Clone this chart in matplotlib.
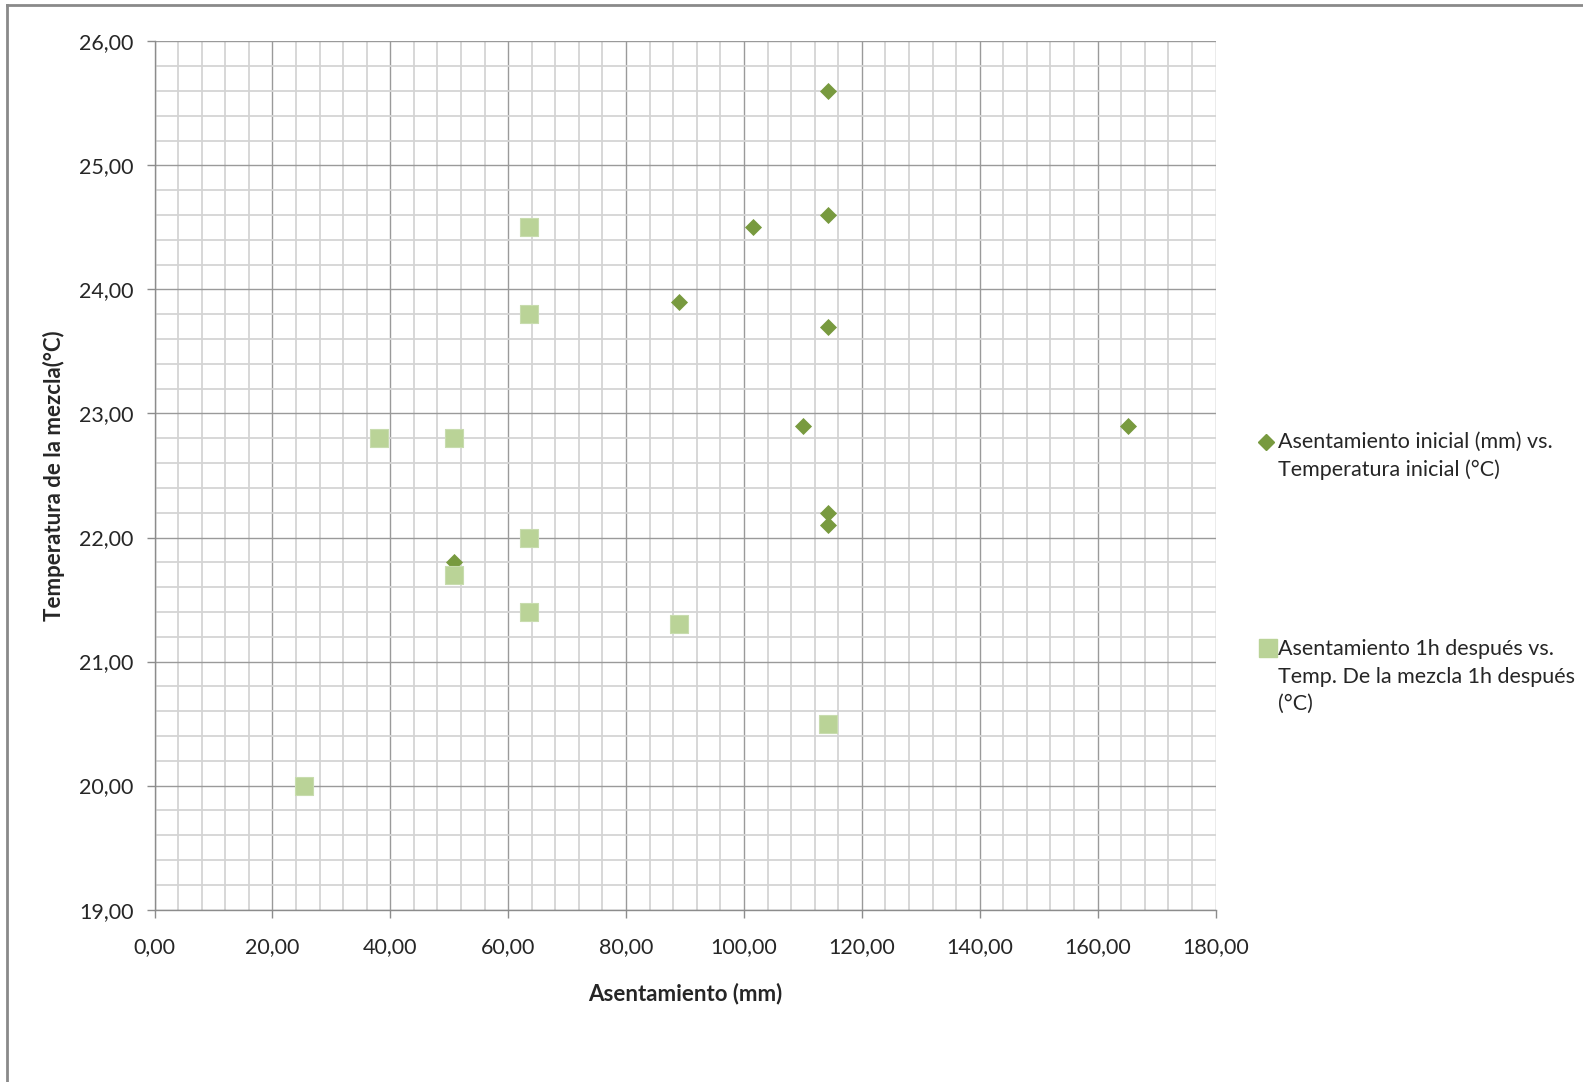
import matplotlib
matplotlib.use("Agg")
import matplotlib.pyplot as plt
from matplotlib.lines import Line2D
from matplotlib.ticker import MultipleLocator, FuncFormatter

plt.rcParams['font.family'] = ['Lato', 'DejaVu Sans']

# Initial slump (mm) vs initial temperature (°C)
x_inicial = [114.3, 114.3, 101.6, 88.9, 114.3, 110.0, 165.1, 114.3, 114.3, 50.8]
t_inicial = [25.6, 24.6, 24.5, 23.9, 23.7, 22.9, 22.9, 22.2, 22.1, 21.8]

# Slump 1h later (mm) vs mix temperature 1h later (°C)
x_1h = [63.5, 63.5, 38.1, 50.8, 63.5, 50.8, 63.5, 88.9, 114.3, 25.4]
t_1h = [24.5, 23.8, 22.8, 22.8, 22.0, 21.7, 21.4, 21.3, 20.5, 20.0]

label_inicial = "Asentamiento inicial (mm) vs.\nTemperatura inicial (°C)"
label_1h = "Asentamiento 1h después vs.\nTemp. De la mezcla 1h después\n(°C)"

c_dark = "#789a3f"
c_light = "#bad397"
txt = "#262626"

W, H = 1583, 1082
fig = plt.figure(figsize=(W / 100, H / 100), dpi=100)
ax = fig.add_axes([154.5 / W, 1 - 909.6 / H, (1215.5 - 154.5) / W, (909.6 - 41.4) / H])

ax.set_xlim(0, 180)
ax.set_ylim(19, 26)
ax.xaxis.set_major_locator(MultipleLocator(20))
ax.xaxis.set_minor_locator(MultipleLocator(4))
ax.yaxis.set_major_locator(MultipleLocator(1))
ax.yaxis.set_minor_locator(MultipleLocator(0.2))
fmt = FuncFormatter(lambda v, p: f"{v:.2f}".replace(".", ","))
ax.xaxis.set_major_formatter(fmt)
ax.yaxis.set_major_formatter(fmt)

ax.grid(which='minor', color='#d4d4d4', linewidth=1.3)
ax.grid(which='major', color='#9a9a9a', linewidth=1.0)
ax.set_axisbelow(True)

for side in ['top', 'right']:
    ax.spines[side].set_visible(False)
for side in ['left', 'bottom']:
    ax.spines[side].set_color('#8c8c8c')
    ax.spines[side].set_linewidth(1.0)

ax.tick_params(which='major', direction='out', length=6, width=1, color='#8c8c8c',
               labelsize=15.5, labelcolor=txt)
ax.tick_params(which='minor', length=0)
ax.tick_params(axis='y', pad=9)
ax.tick_params(axis='x', pad=14)

ax.scatter(x_inicial, t_inicial, marker='D', s=8.7 ** 2, color=c_dark, linewidths=0, zorder=3, clip_on=False)
ax.scatter(x_1h, t_1h, marker='s', s=13 ** 2, color=c_light, edgecolors='#c8dcae', linewidths=0.8, zorder=3, clip_on=False)

ax.set_xlabel("Asentamiento (mm)", fontsize=16, fontweight='bold', color=txt, labelpad=18)
ax.set_ylabel("Temperatura de la mezcla(°C)", fontsize=16, fontweight='bold', color=txt, labelpad=10)

# Legend drawn by hand so each marker sits on its entry's first line
def fx(px):
    return px / W

def fy(py):
    return 1 - py / H

fig.add_artist(Line2D([fx(1266)], [fy(442)], marker='D', markersize=8.5, color=c_dark, linestyle='none'))
fig.text(fx(1278), fy(432), label_inicial, fontsize=15.5, color=txt, va='top', ha='left',
         linespacing=1.47, transform=fig.transFigure)
fig.add_artist(Line2D([fx(1268)], [fy(648)], marker='s', markersize=12.5, color=c_light, linestyle='none'))
fig.text(fx(1278), fy(639), label_1h, fontsize=15.5, color=txt, va='top', ha='left',
         linespacing=1.47, transform=fig.transFigure)

# Outer chart frame (left and top edges)
fig.add_artist(Line2D([fx(7), fx(7)], [fy(5), 0], color='#8a8a8a', linewidth=2))
fig.add_artist(Line2D([fx(7), 1], [fy(5), fy(5)], color='#8a8a8a', linewidth=2))

fig.savefig("out.png", dpi=100, facecolor='white')
